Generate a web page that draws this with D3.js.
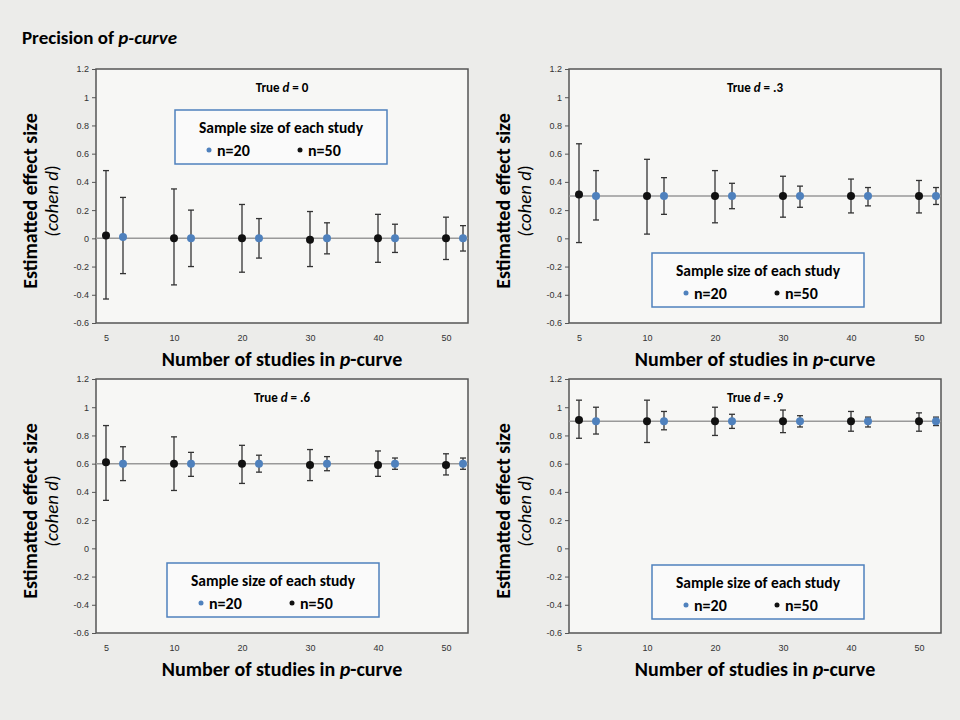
<!DOCTYPE html>
<html><head><meta charset="utf-8">
<script src="https://cdn.jsdelivr.net/npm/d3@7"></script>
<style>body{margin:0;background:#ececea}svg{display:block;font-family:Calibri,Carlito,"Open Sans",sans-serif}</style>
</head><body><div id="container"></div>
<script>
const studies = [5, 10, 20, 30, 40, 50];
const trueD = [0, 0.3, 0.6, 0.9];
const yTicks = [-0.6, -0.4, -0.2, 0, 0.2, 0.4, 0.6, 0.8, 1, 1.2];
// [estimate, low, high] per number of studies
const n50 = [
  [[0.02,-0.43,0.48],[0.0,-0.33,0.35],[0,-0.24,0.24],[-0.01,-0.2,0.19],[0,-0.17,0.17],[0,-0.15,0.15]],
  [[0.31,-0.03,0.67],[0.30,0.03,0.56],[0.30,0.11,0.48],[0.30,0.15,0.44],[0.30,0.18,0.42],[0.30,0.18,0.41]],
  [[0.61,0.34,0.87],[0.60,0.41,0.79],[0.60,0.46,0.73],[0.59,0.48,0.70],[0.59,0.51,0.69],[0.59,0.52,0.67]],
  [[0.91,0.78,1.05],[0.90,0.75,1.05],[0.90,0.80,1.0],[0.90,0.82,0.98],[0.90,0.83,0.97],[0.90,0.83,0.96]]
];
const n20 = [
  [[0.01,-0.25,0.29],[0,-0.2,0.2],[0,-0.14,0.14],[0,-0.11,0.11],[0,-0.1,0.1],[0,-0.09,0.09]],
  [[0.30,0.13,0.48],[0.30,0.17,0.43],[0.30,0.21,0.39],[0.30,0.22,0.37],[0.30,0.23,0.36],[0.30,0.24,0.36]],
  [[0.60,0.48,0.72],[0.60,0.51,0.68],[0.60,0.54,0.66],[0.60,0.55,0.65],[0.60,0.56,0.64],[0.60,0.56,0.64]],
  [[0.90,0.81,1.0],[0.90,0.84,0.97],[0.90,0.85,0.95],[0.90,0.86,0.94],[0.90,0.86,0.93],[0.90,0.87,0.93]]
];
const titles = ["0", ".3", ".6", ".9"];

const svg = d3.select('#container').append('svg').attr('width', 960).attr('height', 720);
svg.append('rect').attr('width', 960).attr('height', 720).attr('fill', '#ececea');
const tt = svg.append('text').attr('x', 22).attr('y', 44).attr('font-size', 19).attr('font-weight', 'bold');
tt.append('tspan').text('Precision of ');
tt.append('tspan').attr('font-style', 'italic').text('p-curve');

const panels = [
  {x: 96, y: 69, legY: 110, legX: 175},
  {x: 569, y: 69, legY: 253, legX: 652},
  {x: 96, y: 379, legY: 563, legX: 167},
  {x: 569, y: 379, legY: 565, legX: 652}
];
const W = 372, H = 254;

panels.forEach((p, i) => {
  const g = svg.append('g').attr('transform', `translate(${p.x},${p.y})`);
  const x = d3.scalePoint().domain(studies).range([10, W - 22]);
  const y = d3.scaleLinear().domain([-0.6, 1.2]).range([H, 0]);
  g.append('rect').attr('width', W).attr('height', H).attr('fill', '#f7f7f5')
    .attr('stroke', '#555').attr('stroke-width', 1.5);
  g.append('line').attr('x1', 0).attr('x2', W).attr('y1', y(trueD[i])).attr('y2', y(trueD[i]))
    .attr('stroke', '#999').attr('stroke-width', 1.5);
  const ya = g.append('g').call(d3.axisLeft(y).tickValues(yTicks).tickSize(4).tickFormat(d => String(+d.toFixed(1))));
  ya.selectAll('text').attr('font-size', 9).attr('fill', '#333');
  ya.select('.domain').remove();
  ya.selectAll('line').attr('stroke', '#555');
  const xa = g.append('g').attr('transform', `translate(0,${H})`).call(d3.axisBottom(x).tickSize(0).tickPadding(12));
  xa.select('.domain').remove();
  xa.selectAll('text').attr('font-size', 9).attr('fill', '#333');

  const series = [{d: n50[i], dx: 0, c: '#111'}, {d: n20[i], dx: 17, c: '#4f81bd'}];
  series.forEach(s => {
    const sg = g.selectAll(null).data(s.d).enter().append('g')
      .attr('transform', (d, j) => `translate(${x(studies[j]) + s.dx},0)`);
    sg.append('line').attr('y1', d => y(d[1])).attr('y2', d => y(d[2])).attr('stroke', '#333').attr('stroke-width', 1.3);
    sg.append('line').attr('x1', -3).attr('x2', 3).attr('y1', d => y(d[1])).attr('y2', d => y(d[1])).attr('stroke', '#333').attr('stroke-width', 1.3);
    sg.append('line').attr('x1', -3).attr('x2', 3).attr('y1', d => y(d[2])).attr('y2', d => y(d[2])).attr('stroke', '#333').attr('stroke-width', 1.3);
    sg.append('circle').attr('cy', d => y(d[0])).attr('r', 4).attr('fill', s.c);
  });

  const t = g.append('text').attr('x', W / 2).attr('y', 23).attr('text-anchor', 'middle').attr('font-size', 13).attr('font-weight', 'bold');
  t.append('tspan').text('True ');
  t.append('tspan').attr('font-style', 'italic').text('d');
  t.append('tspan').text(' = ' + titles[i]);

  const xt = svg.append('text').attr('x', p.x + W / 2).attr('y', p.y + H + 43).attr('text-anchor', 'middle')
    .attr('font-size', 20).attr('font-weight', 'bold');
  xt.append('tspan').text('Number of studies in ');
  xt.append('tspan').attr('font-style', 'italic').text('p');
  xt.append('tspan').text('-curve');

  const yg = svg.append('g').attr('transform', `translate(${p.x - 59},${p.y + H / 2 + 5}) rotate(-90)`);
  yg.append('text').attr('text-anchor', 'middle').attr('font-size', 20).attr('font-weight', 'bold').text('Estimatted effect size');
  const yt2 = yg.append('text').attr('y', 21).attr('text-anchor', 'middle').attr('font-size', 19).attr('font-style', 'italic');
  yt2.append('tspan').text('(cohen ');
  yt2.append('tspan').text('d');
  yt2.append('tspan').attr('font-style', 'normal').text(')');

  const lg = svg.append('g').attr('transform', `translate(${p.legX},${p.legY})`);
  lg.append('rect').attr('width', 212).attr('height', 54).attr('fill', '#fafafa').attr('stroke', '#4f81bd').attr('stroke-width', 1.5);
  lg.append('text').attr('x', 106).attr('y', 23).attr('text-anchor', 'middle').attr('font-size', 15.5).attr('font-weight', 'bold').text('Sample size of each study');
  [{l: 'n=20', c: '#4f81bd', x: 34}, {l: 'n=50', c: '#111', x: 125}].forEach(e => {
    lg.append('circle').attr('cx', e.x).attr('cy', 40).attr('r', 2.5).attr('fill', e.c);
    lg.append('text').attr('x', e.x + 8).attr('y', 46).attr('font-size', 16).attr('font-weight', 'bold').text(e.l);
  });
});
</script>
</body></html>
